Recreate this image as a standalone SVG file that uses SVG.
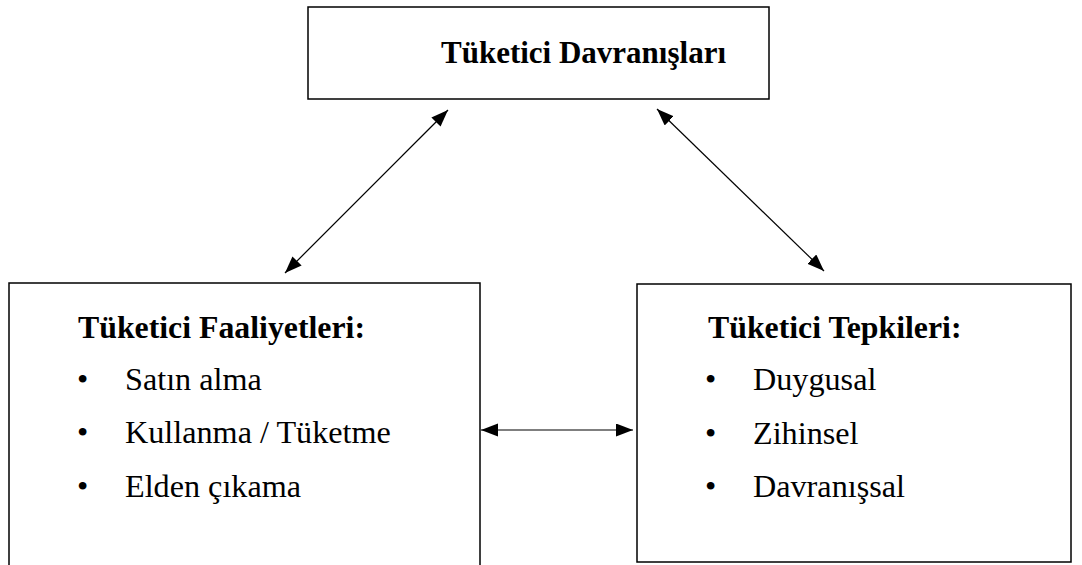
<svg xmlns="http://www.w3.org/2000/svg" width="1082" height="565" viewBox="0 0 1082 565">
<style>
.box{fill:#fff;stroke:#000;stroke-width:1.5}
.h{font-family:"Liberation Serif","Times New Roman","DejaVu Serif",serif;font-weight:bold;font-size:31.8px;fill:#000}
.h0{font-size:31px}
.t{font-family:"Liberation Serif","Times New Roman","DejaVu Serif",serif;font-size:32.2px;fill:#000}
.c{stroke:#000;stroke-width:1.2;fill:none;marker-start:url(#ah);marker-end:url(#ah)}
</style>
<defs>
<marker id="ah" markerUnits="userSpaceOnUse" markerWidth="18" markerHeight="14" refX="17" refY="6.5" orient="auto-start-reverse">
<path d="M0,0 L17,6.5 L0,13 z" fill="#000"/>
</marker>
</defs>
<rect width="1082" height="565" fill="#fff"/>
<g id="node-top">
<rect class="box" x="308" y="7" width="461" height="92"/>
<text class="h h0" x="441" y="63">Tüketici Davranışları</text>
</g>
<g id="node-left">
<rect class="box" x="9" y="283" width="471" height="300"/>
<text class="h" x="78" y="338">Tüketici Faaliyetleri:</text>
<text class="t" x="77" y="390">•</text>
<text class="t" x="125" y="390">Satın alma</text>
<text class="t" x="77" y="443">•</text>
<text class="t" x="125" y="443">Kullanma / Tüketme</text>
<text class="t" x="77" y="497">•</text>
<text class="t" x="125" y="497">Elden çıkama</text>
</g>
<g id="node-right">
<rect class="box" x="637" y="284" width="434" height="278"/>
<text class="h" x="708" y="338">Tüketici Tepkileri:</text>
<text class="t" x="705" y="390">•</text>
<text class="t" x="753" y="390">Duygusal</text>
<text class="t" x="705" y="444">•</text>
<text class="t" x="753" y="444">Zihinsel</text>
<text class="t" x="705" y="497">•</text>
<text class="t" x="753" y="497">Davranışsal</text>
</g>
<g id="connectors">
<line class="c" x1="285" y1="273" x2="448" y2="110"/>
<line class="c" x1="657" y1="109" x2="824" y2="271"/>
<line class="c" x1="481" y1="430" x2="633" y2="430"/>
</g>
</svg>
